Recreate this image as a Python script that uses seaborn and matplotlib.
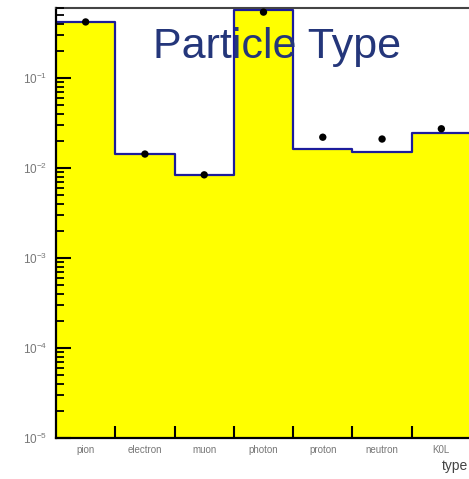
import matplotlib
matplotlib.use("Agg")
import matplotlib.pyplot as plt
import seaborn as sns
import numpy as np
import pandas as pd
from matplotlib.ticker import LogLocator, FixedLocator, NullFormatter

categories = ["pion", "electron", "muon", "photon", "proton", "neutron", "K0L"]
hist_values = [0.419, 0.0143, 0.0084, 0.57, 0.0163, 0.0151, 0.0245]
data_values = [0.42, 0.0143, 0.0084, 0.54, 0.022, 0.021, 0.0273]
y_ticks = [1e-5, 1e-4, 1e-3, 1e-2, 1e-1]
y_tick_labels = [r"$10^{-5}$", r"$10^{-4}$", r"$10^{-3}$", r"$10^{-2}$", r"$10^{-1}$"]

sns.set_style("white")
plt.rcParams["font.family"] = ["Liberation Sans", "DejaVu Sans"]
plt.rcParams["mathtext.fontset"] = "custom"
plt.rcParams["mathtext.rm"] = "Liberation Sans"

fig = plt.figure(figsize=(4.69, 4.79), dpi=100)
ax = fig.add_axes([56 / 469, 1 - 438 / 479, 415 / 469, 430 / 479])
ax.set_axisbelow(False)

pos = np.arange(len(categories))
df = pd.DataFrame({"pos": pos, "w": hist_values})
dfp = pd.DataFrame({"pos": pos, "v": data_values})

ax.set_yscale("log")
sns.histplot(data=df, x="pos", weights="w", discrete=True, element="step",
             fill=True, color="#ffff00", alpha=1, linewidth=0, ax=ax)
sns.histplot(data=df, x="pos", weights="w", discrete=True, element="step",
             fill=False, color="#1c1c9c", linewidth=1.6, ax=ax)
sns.scatterplot(data=dfp, x="pos", y="v", color="black", s=28, edgecolor="none",
                ax=ax, zorder=5)

ax.set_xlim(-0.5, 6.5)
ax.set_ylim(1e-5, 0.6)

# x ticks: edges (major, no labels), centers (minor, labels)
ax.xaxis.set_major_locator(FixedLocator(np.arange(0.5, 6.5, 1.0)))
ax.xaxis.set_major_formatter(NullFormatter())
ax.xaxis.set_minor_locator(FixedLocator(pos))
ax.set_xticklabels(categories, minor=True)
ax.tick_params(axis="x", which="major", direction="in", length=9, width=1.5,
               color="black", bottom=True)
ax.tick_params(axis="x", which="minor", length=0, labelsize=7,
               labelcolor="#777777", pad=5, bottom=True)

ax.yaxis.set_major_locator(FixedLocator(y_ticks))
ax.set_yticklabels(y_tick_labels)
ax.yaxis.set_minor_locator(LogLocator(base=10, subs=np.arange(2, 10)))
ax.yaxis.set_minor_formatter(NullFormatter())
ax.tick_params(axis="y", which="major", direction="in", length=11, width=1.5,
               color="black", labelsize=8.5, labelcolor="#777777", left=True, pad=6)
ax.tick_params(axis="y", which="minor", direction="in", length=6, width=1.3,
               color="black", left=True)

ax.set_xlabel("")
ax.set_ylabel("")
for s in ["left", "bottom"]:
    ax.spines[s].set_color("black")
    ax.spines[s].set_linewidth(1.6)
ax.spines["top"].set_color("#444444")
ax.spines["top"].set_linewidth(1.5)
ax.spines["right"].set_visible(False)

fig.text(468 / 469, 1 - 466 / 479, "type", ha="right", va="center",
         fontsize=10, color="#444444")
fig.text(277 / 469, 1 - 47 / 479, "Particle Type", ha="center", va="center",
         fontsize=31, color="#24367a")

fig.savefig("out.png", dpi=100)
